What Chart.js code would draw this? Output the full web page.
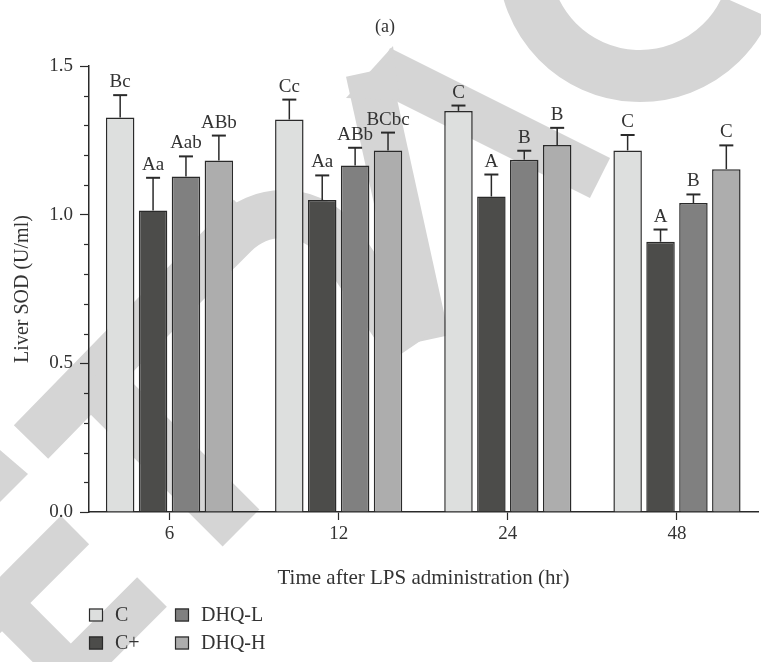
<!DOCTYPE html>
<html>
<head>
<meta charset="utf-8">
<script src="https://cdn.jsdelivr.net/npm/chart.js@4.4.1/dist/chart.umd.min.js"></script>
<style>
  html, body { margin: 0; padding: 0; background: #fff; }
  #wrap { width: 761px; height: 662px; position: relative; }
</style>
</head>
<body>
<div id="wrap"><canvas id="myChart" width="761" height="662"></canvas></div>
<script>
// values
const categories = ["6", "12", "24", "48"];
const groups = ["C", "C+", "DHQ-L", "DHQ-H"];
const cValues = [1.327, 1.320, 1.349, 1.216];
const cPlusValues = [1.014, 1.049, 1.061, 0.909];
const dhqLValues = [1.128, 1.165, 1.185, 1.039];
const dhqHValues = [1.182, 1.216, 1.234, 1.153];
const cErrors = [0.075, 0.067, 0.018, 0.052];
const cPlusErrors = [0.110, 0.083, 0.074, 0.041];
const dhqLErrors = [0.068, 0.060, 0.030, 0.029];
const dhqHErrors = [0.084, 0.060, 0.058, 0.080];
const cLetters = ["Bc", "Cc", "C", "C"];
const cPlusLetters = ["Aa", "Aa", "A", "A"];
const dhqLLetters = ["Aab", "ABb", "B", "B"];
const dhqHLetters = ["ABb", "BCbc", "B", "C"];
const yTickLabels = ["0.0", "0.5", "1.0", "1.5"];

const serif = '"Liberation Serif", "Times New Roman", serif';
const ink = "#2a2a2a";
const barColors = ["#dddfde", "#4c4c4a", "#808080", "#adadad"];

// light grey watermark strokes behind the plot (decoration only)
const watermark = {
  id: "watermark",
  beforeDraw(chart) {
    const ctx = chart.ctx;
    ctx.save();
    ctx.strokeStyle = "#d5d5d5";
    ctx.fillStyle = "#d5d5d5";
    ctx.lineCap = "butt";
    ctx.lineJoin = "miter";
    const stroke = (w, pts) => {
      ctx.lineWidth = w;
      ctx.beginPath();
      ctx.moveTo(pts[0][0], pts[0][1]);
      pts.slice(1).forEach((p) => ctx.lineTo(p[0], p[1]));
      ctx.stroke();
    };
    // round letter, top right
    ctx.lineWidth = 52;
    ctx.beginPath();
    ctx.arc(640, -40, 116, 0.42, Math.PI + 0.4);
    ctx.stroke();
    // pointed letter in the middle
    stroke(45, [[380, 68], [600, 178]]);
    stroke(45, [[368, 72], [427, 340]]);
    ctx.beginPath();
    ctx.moveTo(393, 46);
    ctx.lineTo(400, 100);
    ctx.lineTo(346, 98);
    ctx.closePath();
    ctx.fill();
    // rounded letter on the left
    ctx.lineWidth = 48;
    ctx.beginPath();
    ctx.moveTo(31, 442);
    ctx.lineTo(234, 234);
    ctx.arc(283, 283, 69, -0.75 * Math.PI, -0.6);
    ctx.lineTo(410, 348);
    ctx.stroke();
    stroke(52, [[92, 379], [241, 528]]);
    // square letter, bottom left
    stroke(40, [[-50, 655], [75, 530]]);
    stroke(42, [[40, 704], [152, 592]]);
    stroke(40, [[-10, 591], [80, 681]]);
    ctx.beginPath();
    ctx.moveTo(0, 450);
    ctx.lineTo(28, 474);
    ctx.lineTo(0, 502);
    ctx.closePath();
    ctx.fill();
    ctx.restore();
  }
};

// error bars, group letters, minor ticks, legend, panel label
const extras = {
  id: "extras",
  afterDatasetsDraw(chart) {
    const ctx = chart.ctx;
    const y = chart.scales.y;
    ctx.save();
    chart.data.datasets.forEach((ds, i) => {
      chart.getDatasetMeta(i).data.forEach((bar, j) => {
        const top = y.getPixelForValue(ds.data[j].y + ds.errors[j]);
        ctx.strokeStyle = ink;
        ctx.lineWidth = 1.5;
        ctx.beginPath();
        ctx.moveTo(bar.x, bar.y);
        ctx.lineTo(bar.x, top);
        ctx.stroke();
        ctx.lineWidth = 2;
        ctx.beginPath();
        ctx.moveTo(bar.x - 7, top);
        ctx.lineTo(bar.x + 7, top);
        ctx.stroke();
        ctx.fillStyle = "#333";
        ctx.font = "19px " + serif;
        ctx.textAlign = "center";
        ctx.textBaseline = "alphabetic";
        ctx.fillText(ds.letters[j], bar.x, top - 8);
      });
    });
    ctx.restore();
  },
  afterDraw(chart) {
    const ctx = chart.ctx;
    const y = chart.scales.y;
    const left = chart.chartArea.left;
    ctx.save();
    ctx.strokeStyle = ink;
    ctx.lineWidth = 1.2;
    y.ticks.forEach((t, i) => {
      if (t.label !== "") return;
      const py = Math.round(y.getPixelForTick(i)) + 0.5;
      ctx.beginPath();
      ctx.moveTo(left - 5, py);
      ctx.lineTo(left, py);
      ctx.stroke();
    });

    ctx.fillStyle = "#333";
    ctx.font = "18px " + serif;
    ctx.textAlign = "center";
    ctx.textBaseline = "middle";
    ctx.fillText("(a)", 385, 27);

    // legend in two columns: C / C+ and DHQ-L / DHQ-H
    const cols = [[0, 1], [2, 3]];
    const colX = [89, 175];
    const rowY = [615, 643];
    ctx.font = "20px " + serif;
    ctx.textAlign = "left";
    cols.forEach((col, c) => {
      col.forEach((di, r) => {
        const ds = chart.data.datasets[di];
        ctx.fillStyle = ds.backgroundColor;
        ctx.fillRect(colX[c], rowY[r] - 6.5, 14, 13);
        ctx.strokeStyle = ink;
        ctx.lineWidth = 1.2;
        ctx.strokeRect(colX[c] + 0.5, rowY[r] - 6, 13, 12);
        ctx.fillStyle = "#333";
        ctx.fillText(ds.label, colX[c] + 26, rowY[r] + 1);
      });
    });
    ctx.restore();
  }
};

const seriesValues = [cValues, cPlusValues, dhqLValues, dhqHValues];
const seriesErrors = [cErrors, cPlusErrors, dhqLErrors, dhqHErrors];
const seriesLetters = [cLetters, cPlusLetters, dhqLLetters, dhqHLetters];

new Chart(document.getElementById("myChart"), {
  type: "bar",
  data: {
    datasets: groups.map((g, i) => ({
      label: g,
      // category index on x so the four time points are evenly spaced
      data: seriesValues[i].map((v, j) => ({ x: j, y: v })),
      errors: seriesErrors[i],
      letters: seriesLetters[i],
      backgroundColor: barColors[i],
      borderColor: ink,
      borderWidth: 1.5,
      categoryPercentage: 0.778,
      barPercentage: 0.866
    }))
  },
  options: {
    responsive: false,
    animation: false,
    layout: { padding: { top: 66, right: 3, bottom: 70, left: 0 } },
    plugins: {
      legend: { display: false },
      title: { display: false },
      tooltip: { enabled: false }
    },
    scales: {
      x: {
        type: "linear",
        min: -0.476,
        max: 3.479,
        offset: false,
        afterFit(scale) { scale.height = 80; },
        grid: {
          offset: false,
          drawOnChartArea: false,
          tickLength: 8,
          tickColor: ink,
          tickWidth: 1.2
        },
        border: { color: ink, width: 1.5 },
        ticks: {
          stepSize: 1,
          includeBounds: false,
          color: "#333",
          font: { family: serif, size: 19 },
          padding: 3,
          callback: (v) => categories[v] ?? ""
        },
        title: {
          display: true,
          text: "Time after LPS administration (hr)",
          color: "#333",
          font: { family: serif, size: 21 },
          padding: { top: 0, bottom: 1 }
        }
      },
      y: {
        min: 0,
        max: 1.5,
        afterFit(scale) { scale.width = 89; },
        grid: {
          drawOnChartArea: false,
          tickLength: 9,
          tickWidth: 1.2,
          tickColor: (c) => (c.tick && c.tick.label !== "" ? ink : "rgba(0,0,0,0)")
        },
        border: { color: ink, width: 1.5 },
        ticks: {
          stepSize: 0.1,
          autoSkip: false,
          color: "#333",
          font: { family: serif, size: 19 },
          padding: 7,
          callback: (v) => {
            const k = Math.round(v * 10);
            return k % 5 === 0 ? yTickLabels[k / 5] : "";
          }
        },
        title: {
          display: true,
          text: "Liver SOD (U/ml)",
          color: "#333",
          font: { family: serif, size: 20 },
          padding: { top: 11, bottom: 0 }
        }
      }
    }
  },
  plugins: [watermark, extras]
});
</script>
</body>
</html>
